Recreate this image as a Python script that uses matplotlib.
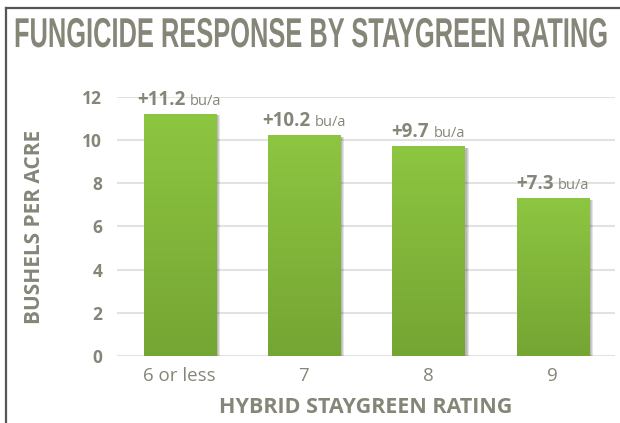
import numpy as np
import matplotlib.pyplot as plt
from matplotlib import patheffects
from matplotlib.colors import LinearSegmentedColormap
from matplotlib.lines import Line2D
from matplotlib.transforms import Affine2D

categories = ['6 or less', '7', '8', '9']
bushels = [11.2, 10.2, 9.7, 7.3]
gain_labels = ['+11.2', '+10.2', '+9.7', '+7.3']
yticks = [0, 2, 4, 6, 8, 10, 12]

grey = '#858578'
plt.rcParams['font.family'] = ['Open Sans', 'DejaVu Sans']


# stretch glyphs vertically (stand-in for a tall condensed face)
class Stretch(patheffects.AbstractPathEffect):
    def __init__(self, sy=1.0):
        super().__init__()
        self.sy = sy

    def draw_path(self, renderer, gc, tpath, affine, rgbFace=None):
        renderer.draw_path(gc, tpath, Affine2D().scale(1.0, self.sy) + affine, rgbFace)


fig = plt.figure(figsize=(6.2, 4.23), dpi=100)
ax = fig.add_axes([0.1895, 0.1584, 0.802, 0.6123])

x = np.arange(len(categories))
shadow = [patheffects.SimplePatchShadow(offset=(o, -0.8), shadow_rgbFace='black', alpha=0.10)
          for o in (3.2, 2.4, 1.6)]
bars = ax.bar(x, bushels, width=0.58, color='#82b93a', zorder=2,
              path_effects=shadow + [patheffects.Normal()])

# vertical gradient on each bar
cmap = LinearSegmentedColormap.from_list('bar', ['#75a533', '#8dc641'])
grad = np.linspace(0, 1, 256).reshape(-1, 1)
for b in bars:
    ax.imshow(grad, cmap=cmap, origin='lower', aspect='auto', zorder=3,
              extent=(b.get_x(), b.get_x() + b.get_width(), 0, b.get_height()))

ax.set_xlim(-0.5, len(categories) - 0.5)
ax.set_ylim(0, 12)
ax.set_yticks(yticks)
ax.set_xticks(x)
ax.set_xticklabels(categories, fontsize=13.5, color=grey)
for lab in ax.get_yticklabels():
    lab.set_fontsize(12.5)
    lab.set_fontweight('bold')
    lab.set_color(grey)
ax.tick_params(axis='x', length=0, pad=8)
ax.tick_params(axis='y', length=0, pad=11)
ax.yaxis.grid(True, color='#e2e2e2', lw=1.5)
ax.set_axisbelow(True)
for s in ax.spines.values():
    s.set_visible(False)

ax.set_xlabel('HYBRID STAYGREEN RATING', fontsize=15.5, fontweight='bold', color=grey)
ax.xaxis.set_label_coords(0.5, -0.2)
ax.xaxis.label.set_va('center')
ax.set_ylabel('BUSHELS PER ACRE', fontsize=15, fontweight='bold', color=grey)
ax.yaxis.set_label_coords(-0.166, 0.5)
ax.yaxis.label.set_va('center')

# value labels: bold number + small unit
pairs = []
for b, g in zip(bars, gain_labels):
    cx = b.get_x() + b.get_width() / 2
    t1 = ax.annotate(g, (cx, b.get_height()), xytext=(0, 7), textcoords='offset points',
                     ha='left', va='baseline', fontsize=13.5, fontweight='bold', color=grey,
                     annotation_clip=False)
    t2 = ax.annotate('bu/a', (cx, b.get_height()), xytext=(0, 7), textcoords='offset points',
                     ha='left', va='baseline', fontsize=10.5, color=grey,
                     annotation_clip=False)
    pairs.append((t1, t2))

title = fig.text(14 / 620, 1 - 47 / 423, 'FUNGICIDE RESPONSE BY STAYGREEN RATING',
                 fontsize=30, fontweight='bold', family='Liberation Sans', color=grey,
                 va='baseline', ha='left')

# frame lines (top and left)
fig.add_artist(Line2D([6 / 620, 6 / 620], [0, 1 - 8 / 423], transform=fig.transFigure,
                      color='#555555', lw=1.6))
fig.add_artist(Line2D([6 / 620, 1], [1 - 8 / 423, 1 - 8 / 423], transform=fig.transFigure,
                      color='#555555', lw=1.6))

fig.canvas.draw()
r = fig.canvas.get_renderer()
k = 72 / fig.dpi
gap = 4
for t1, t2 in pairs:
    w1 = t1.get_window_extent(r).width
    w2 = t2.get_window_extent(r).width
    left = -(w1 + gap + w2) / 2
    t1.set_position((left * k, 7))
    t2.set_position(((left + w1 + gap) * k, 7))

# fit title width, then stretch it back up to the reference cap height
tw = title.get_window_extent(r).width
size = 30 * 593 / tw
title.set_fontsize(size)
title.set_path_effects([Stretch(30 / size)])

fig.savefig('out.png', dpi=100)
